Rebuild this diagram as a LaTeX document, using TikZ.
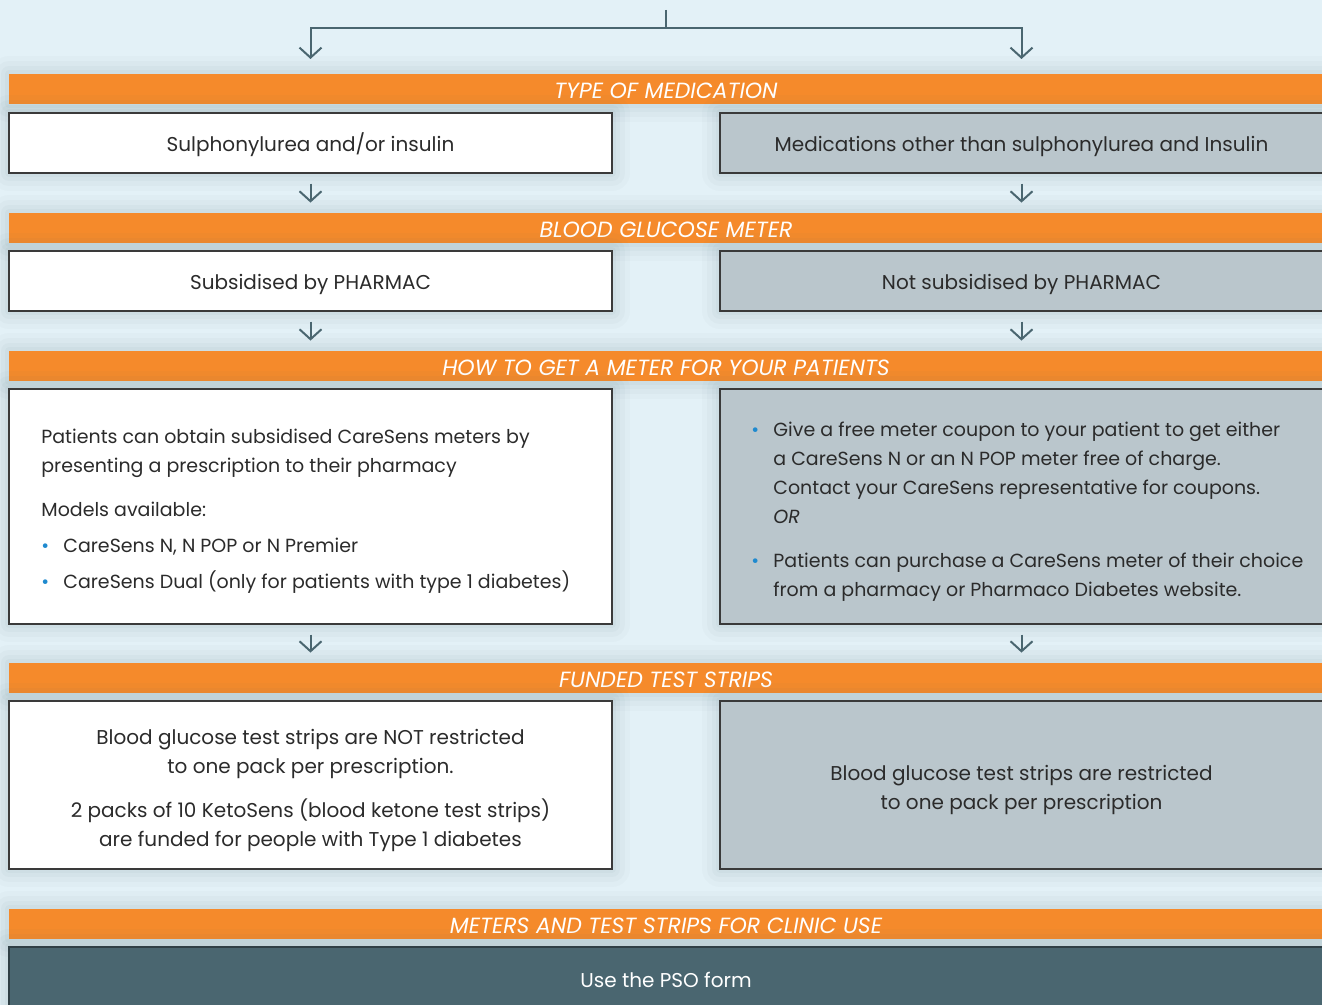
\documentclass[tikz,border=0pt]{standalone}
\usepackage{fontspec}
\setmainfont{Poppins}
\usetikzlibrary{arrows.meta}

\definecolor{medorange}{HTML}{F58A2B}
\definecolor{boxgrey}{HTML}{BAC6CC}
\definecolor{boxline}{HTML}{3A3A3A}
\definecolor{slate}{HTML}{4A6670}
\definecolor{slateline}{HTML}{2F3F45}
\definecolor{dotblue}{HTML}{1F8ACF}
\definecolor{pagebg}{HTML}{E3F1F7}
\definecolor{txtdark}{HTML}{2B2B2B}

\newcommand\dotitem{\makebox[11pt][l]{\textcolor{dotblue}{•}}}
\newcommand\dotskip{\hspace*{11pt}}

\tikzset{
  halo/.style={
      preaction={draw=slate, draw opacity=0.025, line width=18pt, line join=round},
      preaction={draw=slate, draw opacity=0.03, line width=13pt, line join=round},
      preaction={draw=slate, draw opacity=0.035, line width=8pt, line join=round},
      preaction={draw=slate, draw opacity=0.04, line width=4pt, line join=round}},
  bodytext/.style={font=\fontsize{10}{14.5}\selectfont, text=txtdark, inner sep=0pt},
  smalltext/.style={bodytext, font=\fontsize{9.5}{14.5}\selectfont},
  oneline/.style={text height=9pt, text depth=0pt},
  bar/.style={halo, fill=medorange, text=white, minimum width=657pt,
      minimum height=15pt, inner sep=0pt, text height=9.5pt, text depth=0pt,
      font=\fontsize{11}{12}\selectfont\itshape},
  whitebox/.style={halo, bodytext, draw=boxline, line width=0.7pt, fill=white,
      minimum width=301.5pt},
  greybox/.style={whitebox, fill=boxgrey},
  darkbox/.style={halo, bodytext, draw=slateline, line width=0.7pt, fill=slate,
      text=white, minimum width=657pt},
  flow/.style={draw=slate, line width=1pt, -{Straight Barb[length=5pt,width=11pt]}},
}

\begin{document}
\begin{tikzpicture}[x=0.5pt,y=-0.5pt]
  \fill[pagebg] (0,0) rectangle (1322,1005);
  \useasboundingbox (0,0) rectangle (1322,1005);

  % split at the top
  \coordinate (top) at (666,10);
  \coordinate (split) at (666,28);
  \coordinate (inL) at (310.5,59);
  \coordinate (inR) at (1021.5,59);

  % orange headings
  \node[bar] (medbar) at (666,89) {TYPE OF MEDICATION};
  \node[bar] (meterbar) at (666,228) {BLOOD GLUCOSE METER};
  \node[bar] (howbar) at (666,366) {HOW TO GET A METER FOR YOUR PATIENTS};
  \node[bar] (stripbar) at (666,678) {FUNDED TEST STRIPS};
  \node[bar] (clinicbar) at (666,924) {METERS AND TEST STRIPS FOR CLINIC USE};

  % boxes
  \node[whitebox, oneline, minimum height=30pt] (sulpho) at (310.5,143) {Sulphonylurea and/or insulin};
  \node[greybox, oneline, minimum height=30pt] (othermed) at (1021.5,143) {Medications other than sulphonylurea and Insulin};
  \node[whitebox, oneline, minimum height=30pt] (subsid) at (310.5,281) {Subsidised by PHARMAC};
  \node[greybox, oneline, minimum height=30pt] (notsubsid) at (1021.5,281) {Not subsidised by PHARMAC};
  \node[whitebox, minimum height=117.5pt] (obtain) at (310.5,506.5) {};
  \node[greybox, minimum height=117.5pt] (coupon) at (1021.5,506.5) {};
  \node[whitebox, minimum height=84pt] (notrestr) at (310.5,785) {};
  \node[greybox, minimum height=84pt] (restr) at (1021.5,785) {};
  \node[darkbox, text height=7pt, text depth=0pt, minimum height=33pt] (pso) at (666,980) {Use the PSO form};

  % texts of the larger boxes
  \node[smalltext, anchor=west, align=left] (obtaintxt) at (41,511.5)
    {Patients can obtain subsidised CareSens meters by\\
     presenting a prescription to their pharmacy\\[7.5pt]
     Models available:\\[3.5pt]
     \dotitem CareSens N, N POP or N Premier\\[3.5pt]
     \dotitem CareSens Dual (only for patients with type 1 diabetes)};
  \node[smalltext, anchor=west, align=left] (coupontxt) at (751,511.5)
    {\dotitem Give a free meter coupon to your patient to get either\\
     \dotskip a CareSens N or an N POP meter free of charge.\\
     \dotskip Contact your CareSens representative for coupons.\\
     \dotskip\textit{OR}\\[7.5pt]
     \dotitem Patients can purchase a CareSens meter of their choice\\
     \dotskip from a pharmacy or Pharmaco Diabetes website.};
  \node[bodytext, align=center] (notrestrtxt) at (310.5,790.5)
    {Blood glucose test strips are NOT restricted\\
     to one pack per prescription.\\[7.5pt]
     2 packs of 10 KetoSens (blood ketone test strips)\\
     are funded for people with Type 1 diabetes};
  \node[bodytext, align=center] (restrtxt) at (1021.5,790)
    {Blood glucose test strips are restricted\\
     to one pack per prescription};

  % connectors
  \draw[flow] (top) -- (split) -| (inL);
  \draw[flow] (split) -| (inR);
  \begin{scope}[flow, shorten <=5pt, shorten >=5pt]
    \draw (sulpho.south) -- (sulpho.south |- meterbar.north);
    \draw (othermed.south) -- (othermed.south |- meterbar.north);
    \draw (subsid.south) -- (subsid.south |- howbar.north);
    \draw (notsubsid.south) -- (notsubsid.south |- howbar.north);
    \draw (obtain.south) -- (obtain.south |- stripbar.north);
    \draw (coupon.south) -- (coupon.south |- stripbar.north);
  \end{scope}
\end{tikzpicture}
\end{document}
